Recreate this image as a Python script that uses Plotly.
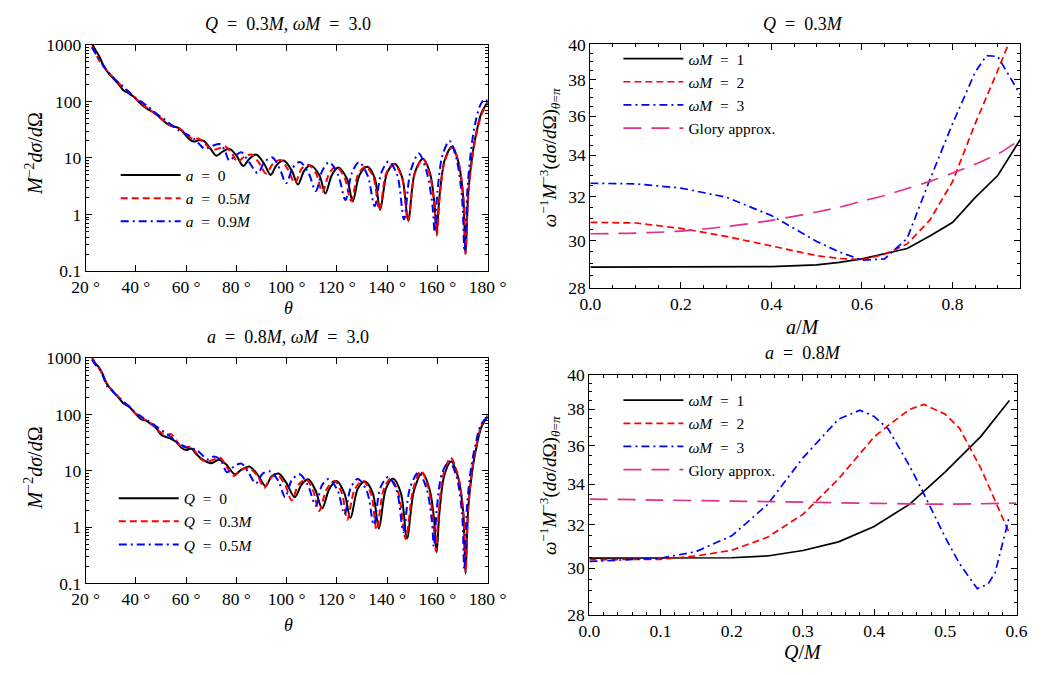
import numpy as np
import plotly.graph_objects as go

# ---------------- data: top-left (Q = 0.3M, wM = 3) ----------------
tl_a0_theta = [22.5,24,25.5,27,29,31,33,35,37,39,41,43,45,47,49,51,53,55,57,59,61,63,65,67,69.5,72,74.5,77.3,80,82.7,85,87.8,91,93.6,96,98.8,102,104.5,107,109.5,113,115.4,118,120.5,124,126.3,129,132.1,135,137.2,140,143,146,148.4,151,154.3,157,158.8,159.7,160.8,163,165.9,168.5,170.3,171.2,172.3,174,175.5,177.5,180]
tl_a0_val = [1050,800,620,440,320,255,205,158,140,122,100,82,72,64,55,45,39,36,34,28,22,19.5,20.5,20,15,11,13,14.5,11,7.2,9.5,11.5,8,5,7.5,9,6,3.4,6,7.4,5,2.35,5,6.8,4.3,1.7,5,7,4.5,1.2,5.5,7.9,4.5,0.79,5.5,9.7,5.5,1.6,0.47,2,9.5,16,8,2,0.2,2.5,12,28,62,98]

tl_a5_theta = [22.5,24,25.5,27,29,31,33,35,37,39,41,43,45,47,49,51,53,55,57,59,61,63,65,67,69,71,73.5,75.5,78,80.5,83,86,89,91.8,94.5,97.5,100.5,103.3,106,108.7,111.8,114.2,117,119.8,123,125.7,128.5,131.5,134.5,136.9,139.8,142.8,146,148.3,151,154.2,157,158.8,159.8,160.9,163,165.9,168.5,170.3,171.2,172.3,174,175.5,177.5,180]
tl_a5_val = [950,700,520,420,330,265,215,172,148,124,102,86,74,63,55,46,39,36,34,29,24,21.5,22,19,15.5,14,15,16,12.5,8.5,10.5,11.5,8.2,5.3,7.8,9.2,6.3,3.6,6.5,7.6,5.2,2.5,5.4,7,4.5,1.75,5.2,7,4.6,1.2,5.6,7.8,4.3,0.75,5.2,9.6,5,1.4,0.43,2,9,15.5,8,2,0.2,2.3,11,26,58,95]

tl_a9_theta = [22.5,24,25.5,27,29,31,33,35,37,39,41,43,45,47,49,51,53,55,57,59,61,63,65,67.5,70.5,73.7,75.5,77.2,79.5,82,85,88.5,91.2,94.3,97.3,99.8,102.5,105.3,108.8,111.6,114.2,116.9,120.5,123.4,126,128.8,132.3,135,137.7,140.6,144,146.7,149.3,152.6,155.8,158,158.9,160,162,164.8,167.5,169.8,170.8,172,173.5,175,177,178.8,180]
tl_a9_val = [900,700,560,430,330,262,218,182,150,124,106,93,80,67,57,50,42,36,31,28,25,22,18,14.5,16.5,17.5,13,9,11,12.6,8.5,5.4,8.5,10.2,6.3,3.6,6.8,8.5,5.3,2.6,6,8.4,5,1.8,5.5,8.4,4.8,1.4,5.5,8.7,5,0.82,5.8,12,5.5,1.5,0.5,2.5,11,20,10,2,0.22,3,15,40,85,110,100]

# ---------------- data: bottom-left (a = 0.8M, wM = 3) ----------------
bl_q0_theta = [22.5,24,25,26.5,28.5,30.5,32.5,35,37.5,39.5,42,44,46,48,50,52,54,56,58,60,62,64,66,70,73,76,79.4,82,85.1,88.5,91.6,94,96.8,100,103.2,106,108.6,111.5,114.1,117,119.9,123,125.4,128.3,131.2,134.3,136.7,139.5,142.4,145.5,147.9,150.7,154,157,158.8,159.7,160.8,162.8,165.5,168.3,170.3,171.2,172.3,174,175.5,177.5,180]
bl_q0_val = [1050,800,720,560,350,270,215,160,135,108,83,78,68,58,44,40,37,33,26,23.5,25,20,16.5,13.7,15.8,13,8.7,10.5,12,8.5,5.4,8,9,6,3.4,5.8,7.1,4.5,2.15,4.8,6.6,4,1.45,4.8,6.5,4,0.95,4.8,7.3,4,0.63,4.5,9.2,4.5,1.2,0.36,1.8,8.5,14.7,7.5,1.8,0.15,2.3,11,26,60,93]

bl_q3_theta = [22.5,24,25.5,27,28.5,30.5,32.5,35,37.5,39.5,42,44,46,48,50,52,54,56,58,60,62,64,66,68.5,71,73.6,76,78.9,82,85.3,88.5,91.1,93.5,96.2,99.5,102,104.8,107.8,110.5,112.9,116,119.1,122,124.1,127,130.2,133.5,135.8,138.5,141.4,144.5,147.4,150.3,153.4,156.5,158.4,159.4,160.5,162.5,165.3,168.3,170.3,171.2,172.3,174,175.5,177.5,180]
bl_q3_val = [1000,780,650,480,340,275,222,168,135,108,88,80,70,57,48,44,45,35,27,26,27,21,16,14.5,16,17,12,8.2,10.5,11,8,5,7.5,8.5,5.5,3.0,5.8,7,4.5,1.95,4.8,6.6,4,1.35,4.6,6.7,4,0.9,4.5,7.3,4,0.62,4.6,10,4.8,1.2,0.38,1.8,9,17,8,1.8,0.16,2.3,12,28,64,98]

bl_q5_theta = [22.5,24,25.5,27,28.5,30.5,32.5,35,37.5,39.5,42,44,46,48,50,52,54,56,58,60,62,64,66,68.5,71,73.5,76.3,79,82,85,87.8,90.5,93.5,96.8,99.4,102,105.1,108.5,111.6,114,116.7,120.3,123,125.5,128.3,132,134.7,137.3,140.4,143.8,146.5,149,152.5,155.7,157.8,158.6,159.8,161.8,164.7,167.6,169.8,170.7,171.8,173.5,175.2,177.3,180]
bl_q5_val = [950,760,640,470,320,265,215,170,138,110,93,82,72,62,54,46,40,33,29,26.5,25,24,20,16,18,16,9.5,12,13.5,9,6,9,9.8,6.5,3.4,6.8,8.7,5.5,2.4,5.5,7.2,4.5,1.7,5,7.2,4.3,1.1,5,7.8,4.5,0.82,4.8,9.4,4.8,1.3,0.45,2.2,9,14.8,8,1.8,0.18,2.4,12,30,66,92]

# ---------------- data: top-right (Q = 0.3M) ----------------
tr_a = [0,0.1,0.2,0.3,0.4,0.5,0.55,0.6,0.65,0.7,0.75,0.8,0.85,0.875,0.9,0.95]
tr_w1 = [28.85,28.85,28.85,28.85,28.87,28.95,29.05,29.2,29.42,29.65,30.2,30.8,31.95,32.45,33.0,34.8]
tr_w2 = [30.81,30.78,30.54,30.18,29.76,29.34,29.22,29.17,29.4,29.85,30.91,32.7,35.6,37.0,38.5,41.8]
tr_w3 = [32.63,32.6,32.4,31.97,31.12,29.96,29.5,29.15,29.2,30.1,32.8,35.6,38.4,39.35,39.3,37.15]
tr_gl = [30.3,30.33,30.42,30.62,30.9,31.28,31.5,31.78,32.05,32.38,32.72,33.12,33.55,33.8,34.05,34.8]

# ---------------- data: bottom-right (a = 0.8M) ----------------
br_q_w1 = [0,0.1,0.2,0.25,0.3,0.35,0.4,0.45,0.5,0.55,0.59]
br_w1 = [30.45,30.45,30.47,30.55,30.8,31.2,31.92,33.0,34.62,36.5,38.5]
br_q_w2 = [0,0.1,0.15,0.2,0.25,0.3,0.35,0.4,0.42,0.45,0.47,0.5,0.52,0.55,0.59]
br_w2 = [30.38,30.4,30.55,30.81,31.41,32.5,34.26,36.47,37.1,38.0,38.28,37.72,36.94,34.8,31.6]
br_q_w3 = [0,0.1,0.15,0.2,0.25,0.3,0.35,0.38,0.4,0.42,0.45,0.47,0.5,0.52,0.545,0.56,0.57,0.59]
br_w3 = [30.3,30.45,30.75,31.48,32.97,35.35,37.45,37.95,37.6,36.9,34.92,33.5,31.4,30.2,29.1,29.3,29.8,32.4]
br_q_gl = [0,0.1,0.2,0.3,0.4,0.5,0.6]
br_gl = [33.25,33.2,33.15,33.1,33.04,33.0,33.05]

deg_ticks = [20,40,60,80,100,120,140,160,180]
deg_text = [f"{t} °" for t in deg_ticks]
log_ticks = [0.1,1,10,100,1000]
log_text = ["0.1","1","10","100","1000"]
rt_ticks = [28,30,32,34,36,38,40]

FONT = "Liberation Serif"
W, H = 1051, 675
BLACK, RED, BLUE, MAG = "#000000", "#ff0000", "#0000ff", "#e0308c"
DASH_R = "7px,4px"
DASH_B = "8px,4px,2px,4px"
DASH_G = "18px,10px"
EQ = "\u2002=\u2002"

fig = go.Figure()

def add(x, y, xa, ya, color, dash, name, legend, width=2, shape="spline"):
    fig.add_trace(go.Scatter(x=x, y=y, xaxis=xa, yaxis=ya, mode="lines", name=name,
                             line=dict(color=color, width=width, dash=dash, shape=shape,
                                       smoothing=0.9 if shape == "spline" else None),
                             legend=legend, showlegend=True))

add(tl_a0_theta, tl_a0_val, "x", "y", BLACK, "solid", f"<i>a</i>{EQ}0", "legend")
add(tl_a5_theta, tl_a5_val, "x", "y", RED, DASH_R, f"<i>a</i>{EQ}0.5<i>M</i>", "legend")
add(tl_a9_theta, tl_a9_val, "x", "y", BLUE, DASH_B, f"<i>a</i>{EQ}0.9<i>M</i>", "legend")

add(tr_a, tr_w1, "x2", "y2", BLACK, "solid", f"<i>ωM</i>{EQ}1", "legend2", 1.7, "linear")
add(tr_a, tr_w2, "x2", "y2", RED, DASH_R, f"<i>ωM</i>{EQ}2", "legend2", 1.7, "linear")
add(tr_a, tr_w3, "x2", "y2", BLUE, DASH_B, f"<i>ωM</i>{EQ}3", "legend2", 1.7, "linear")
add(tr_a, tr_gl, "x2", "y2", MAG, DASH_G, "Glory approx.", "legend2", 1.7, "spline")

add(bl_q0_theta, bl_q0_val, "x3", "y3", BLACK, "solid", f"<i>Q</i>{EQ}0", "legend3")
add(bl_q3_theta, bl_q3_val, "x3", "y3", RED, DASH_R, f"<i>Q</i>{EQ}0.3<i>M</i>", "legend3")
add(bl_q5_theta, bl_q5_val, "x3", "y3", BLUE, DASH_B, f"<i>Q</i>{EQ}0.5<i>M</i>", "legend3")

add(br_q_w1, br_w1, "x4", "y4", BLACK, "solid", f"<i>ωM</i>{EQ}1", "legend4", 1.7, "linear")
add(br_q_w2, br_w2, "x4", "y4", RED, DASH_R, f"<i>ωM</i>{EQ}2", "legend4", 1.7, "linear")
add(br_q_w3, br_w3, "x4", "y4", BLUE, DASH_B, f"<i>ωM</i>{EQ}3", "legend4", 1.7, "linear")
add(br_q_gl, br_gl, "x4", "y4", MAG, DASH_G, "Glory approx.", "legend4", 1.7, "spline")

def px_x(a, b):
    return [a / W, b / W]

def px_y(top, bot):
    return [1 - bot / H, 1 - top / H]

tickfont = dict(family=FONT, size=17.5, color="black")
common = dict(showline=True, linecolor="black", linewidth=1, mirror="ticks", ticks="inside",
              ticklen=6, tickcolor="black", showgrid=False, zeroline=False, tickfont=tickfont)

x_left = px_x(74, 489)
fig.update_layout(
    width=W, height=H, margin=dict(l=0, r=0, t=0, b=0),
    paper_bgcolor="white", plot_bgcolor="white", font=dict(family=FONT, color="black"),
    xaxis=dict(domain=x_left, range=[20, 180], anchor="y", tickvals=deg_ticks, ticktext=deg_text, **common),
    yaxis=dict(domain=px_y(36, 269), type="log", range=[-1, 3], anchor="x", tickvals=log_ticks, ticktext=log_text,
               minor=dict(ticks="inside", ticklen=3, tickcolor="black", dtick="D1", showgrid=False), **common),
    xaxis2=dict(domain=px_x(595, 1039), range=[0, 0.95], anchor="y2", tickvals=[0, 0.2, 0.4, 0.6, 0.8],
                ticktext=["0.0", "0.2", "0.4", "0.6", "0.8"],
                minor=dict(ticks="inside", ticklen=3, tickcolor="black", dtick=0.05, tick0=0, showgrid=False), **common),
    yaxis2=dict(domain=px_y(35.5, 286), type="log", range=[np.log10(28), np.log10(40)], anchor="x2",
                tickvals=rt_ticks, ticktext=[str(v) for v in rt_ticks],
                minor=dict(ticks="inside", ticklen=3, tickcolor="black", dtick="L0.5", tick0=28, showgrid=False), **common),
    xaxis3=dict(domain=x_left, range=[20, 180], anchor="y3", tickvals=deg_ticks, ticktext=deg_text, **common),
    yaxis3=dict(domain=px_y(359, 591), type="log", range=[-1, 3], anchor="x3", tickvals=log_ticks, ticktext=log_text,
                minor=dict(ticks="inside", ticklen=3, tickcolor="black", dtick="D1", showgrid=False), **common),
    xaxis4=dict(domain=px_x(594, 1035), range=[0, 0.6], anchor="y4", tickvals=[0, 0.1, 0.2, 0.3, 0.4, 0.5, 0.6],
                ticktext=["0.0", "0.1", "0.2", "0.3", "0.4", "0.5", "0.6"],
                minor=dict(ticks="inside", ticklen=3, tickcolor="black", dtick=0.02, tick0=0, showgrid=False), **common),
    yaxis4=dict(domain=px_y(376, 623), type="log", range=[np.log10(28), np.log10(40)], anchor="x4",
                tickvals=rt_ticks, ticktext=[str(v) for v in rt_ticks],
                minor=dict(ticks="inside", ticklen=3, tickcolor="black", dtick="L0.5", tick0=28, showgrid=False), **common),
)

leg_common = dict(bgcolor="rgba(0,0,0,0)", borderwidth=0, xanchor="left", yanchor="top",
                  tracegroupgap=0, itemclick=False, itemwidth=60)
fig.update_layout(
    legend=dict(x=105 / W, y=1 - 153 / H, font=dict(family=FONT, size=15.5), **leg_common),
    legend2=dict(x=624 / W, y=1 - 33 / H, font=dict(family=FONT, size=15.5), **leg_common),
    legend3=dict(x=103 / W, y=1 - 486 / H, font=dict(family=FONT, size=15.5), **leg_common),
    legend4=dict(x=624 / W, y=1 - 385 / H, font=dict(family=FONT, size=15.5), **leg_common),
)

def ann(text, x, y, size=18, angle=0):
    fig.add_annotation(text=text, x=x / W, y=1 - y / H, xref="paper", yref="paper", showarrow=False,
                       font=dict(family=FONT, size=size, color="black"), textangle=angle,
                       xanchor="center", yanchor="middle")

ann(f"<i>Q</i>{EQ}0.3<i>M</i>, <i>ωM</i>{EQ}3.0", 283, 14)
ann(f"<i>Q</i>{EQ}0.3<i>M</i>", 815, 14)
ann(f"<i>a</i>{EQ}0.8<i>M</i>, <i>ωM</i>{EQ}3.0", 283, 337)
ann(f"<i>a</i>{EQ}0.8<i>M</i>", 815, 353)
ann("<i>θ</i>", 283, 307, 18)
ann("<i>θ</i>", 283, 634, 18)
ann("<i>a</i>/<i>M</i>", 815, 327, 20)
ann("<i>Q</i>/<i>M</i>", 815, 662, 20)
ann("<i>M</i><sup>−2</sup><i>dσ</i>/<i>d</i>Ω", 20, 148, 20, -90)
ann("<i>M</i><sup>−2</sup><i>dσ</i>/<i>d</i>Ω", 20, 472, 20, -90)
ann("<i>ω</i><sup>−1</sup><i>M</i><sup>−3</sup>(<i>dσ</i>/<i>d</i>Ω)<sub><i>θ</i>=<i>π</i></sub>", 553, 152, 19, -90)
ann("<i>ω</i><sup>−1</sup><i>M</i><sup>−3</sup>(<i>dσ</i>/<i>d</i>Ω)<sub><i>θ</i>=<i>π</i></sub>", 553, 490, 19, -90)

fig.write_html("out.html")
